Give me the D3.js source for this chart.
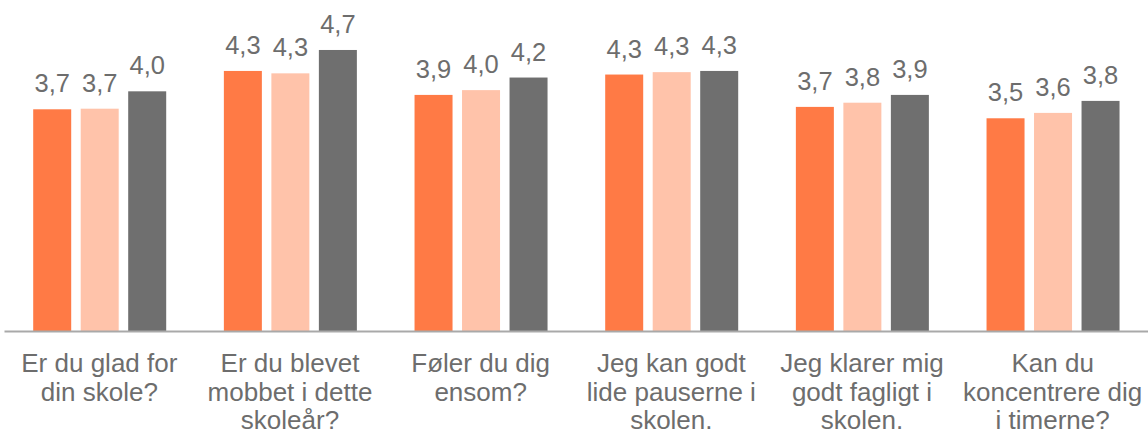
<!DOCTYPE html>
<html>
<head>
<meta charset="utf-8">
<script src="https://cdn.jsdelivr.net/npm/d3@7/dist/d3.min.js"></script>
<style>
html,body{margin:0;padding:0;background:#fff;}
svg{display:block;}
text{font-family:"Liberation Sans",Arial,sans-serif;fill:#6d6d6d;}
</style>
</head>
<body>
<svg id="chart" width="1148" height="435"></svg>
<script>
const categories = [
  ["Er du glad for", "din skole?"],
  ["Er du blevet", "mobbet i dette", "skoleår?"],
  ["Føler du dig", "ensom?"],
  ["Jeg kan godt", "lide pauserne i", "skolen."],
  ["Jeg klarer mig", "godt fagligt i", "skolen."],
  ["Kan du", "koncentrere dig", "i timerne?"]
];
const seriesNames = ["Serie 1", "Serie 2", "Serie 3"];
const series1 = [3.70, 4.34, 3.94, 4.28, 3.74, 3.55];
const series2 = [3.71, 4.30, 4.02, 4.32, 3.81, 3.64];
const series3 = [4.00, 4.69, 4.23, 4.34, 3.94, 3.84];
const colors = ["#ff7a45", "#ffc3aa", "#6f6f6f"];

const seriesValues = [series1, series2, series3];
const svg = d3.select("#chart");
const baseY = 331;

const x0 = d3.scaleBand().domain(d3.range(categories.length)).range([4, 1148]).paddingInner(0).paddingOuter(0);
const x1 = d3.scaleBand().domain(seriesNames).range([29.2, 162.2]).paddingInner(0.2).paddingOuter(0);
const y = d3.scaleLinear().domain([0, 5]).range([baseY, baseY - 299.6]);

const fmt = v => d3.format(".1f")(v).replace(".", ",");

const groups = svg.selectAll("g.grp").data(categories).enter().append("g")
  .attr("class", "grp")
  .attr("transform", (d, i) => `translate(${x0(i)},0)`);

seriesNames.forEach((s, si) => {
  groups.append("rect")
    .attr("x", x1(s))
    .attr("width", x1.bandwidth())
    .attr("y", (d, i) => y(seriesValues[si][i]))
    .attr("height", (d, i) => baseY - y(seriesValues[si][i]))
    .attr("fill", colors[si]);
  groups.append("text")
    .attr("x", x1(s) + x1.bandwidth() / 2)
    .attr("y", (d, i) => y(seriesValues[si][i]) - 17)
    .attr("text-anchor", "middle")
    .style("font-size", "25.5px")
    .text((d, i) => fmt(seriesValues[si][i]));
});

// axis line
const xAxis = d3.axisBottom(x0).tickSize(0).tickFormat("");
const ax = svg.append("g").attr("transform", `translate(0,${baseY})`).call(xAxis);
ax.select(".domain").attr("stroke", "#a9a9a9").attr("stroke-width", 2);

// category labels
groups.append("text")
  .attr("x", x0.bandwidth() / 2)
  .attr("y", 372.3)
  .attr("text-anchor", "middle")
  .style("font-size", "26px")
  .each(function(d) {
    const t = d3.select(this);
    d.forEach((line, li) => {
      t.append("tspan").attr("x", x0.bandwidth() / 2).attr("y", 372.3 + li * 28.4).text(line);
    });
  });
</script>
</body>
</html>
